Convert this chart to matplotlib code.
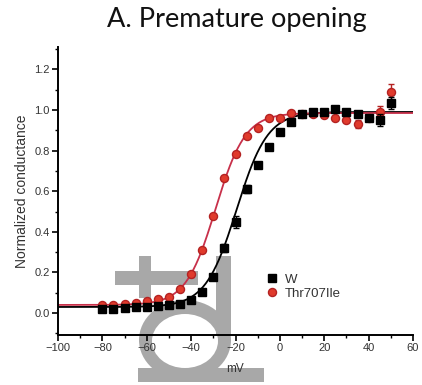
import numpy as np
import matplotlib
matplotlib.use("Agg")
import matplotlib.pyplot as plt
from matplotlib.patches import Rectangle, Ellipse
from matplotlib.lines import Line2D

# voltages (mV)
volts = [-80, -75, -70, -65, -60, -55, -50, -45, -40, -35, -30, -25, -20, -15,
         -10, -5, 0, 5, 10, 15, 20, 25, 30, 35, 40, 45, 50]

# W (black squares)
g_w = [0.02, 0.02, 0.025, 0.03, 0.03, 0.035, 0.04, 0.045, 0.065, 0.105, 0.18, 0.32, 0.45, 0.61,
       0.73, 0.82, 0.89, 0.94, 0.98, 0.99, 0.99, 1.005, 0.99, 0.98, 0.96, 0.95, 1.035]
err_w = [0, 0, 0, 0, 0, 0, 0, 0, 0, 0.01, 0.01, 0.02, 0.03, 0.02,
         0.01, 0.01, 0, 0, 0, 0, 0, 0, 0.01, 0.01, 0.01, 0.03, 0.03]

# Thr707Ile (red circles)
g_mut = [0.04, 0.04, 0.045, 0.05, 0.06, 0.068, 0.078, 0.12, 0.19, 0.31, 0.48, 0.665, 0.785, 0.87,
         0.91, 0.96, 0.96, 0.985, 0.98, 0.98, 0.975, 0.96, 0.95, 0.93, 0.96, 0.99, 1.09]
err_mut = [0, 0, 0, 0, 0, 0, 0, 0.01, 0.01, 0.01, 0.01, 0.01, 0.01, 0.01,
           0.01, 0.01, 0, 0, 0, 0, 0, 0, 0.01, 0.02, 0.01, 0.03, 0.04]

# Boltzmann fit parameters: bottom, top, V1/2, slope
fit_w = (0.03, 0.99, -19.5, 7.0)
fit_mut = (0.04, 0.985, -29.0, 6.7)

labels = ["W", "Thr707Ile"]

RED = "#e03a2c"
RED_EDGE = "#b42222"
GRAY = "#a8a8a8"
FONT = "Liberation Sans"


def boltz(v, p):
    b, t, vh, k = p
    return b + (t - b) / (1 + np.exp((vh - v) / k))


W, H = 422, 385
fig = plt.figure(figsize=(W / 100, H / 100), dpi=100)


def px_rect(x0, y0, x1, y1):
    # pixel box (top-left origin) -> figure fraction rectangle
    return Rectangle((x0 / W, 1 - y1 / H), (x1 - x0) / W, (y1 - y0) / H,
                     transform=fig.transFigure, color=GRAY, zorder=0, lw=0)


# gray watermark glyphs behind the plot
fig.add_artist(px_rect(115, 271, 198, 285))
fig.add_artist(px_rect(139, 256, 151, 298))
fig.add_artist(Ellipse((185 / W, 1 - 340 / H), 92 / W, 80 / H, transform=fig.transFigure,
                       color=GRAY, zorder=0, lw=0))
fig.add_artist(Ellipse((185 / W, 1 - 341 / H), 66 / W, 54 / H, transform=fig.transFigure,
                       color="white", zorder=0, lw=0))
fig.add_artist(px_rect(216, 256, 231, 335))
fig.add_artist(px_rect(138, 368, 264, 382))

ax = fig.add_axes([58 / W, 1 - 335 / H, (413 - 58) / W, (335 - 47) / H])
ax.patch.set_alpha(0)

vv = np.linspace(-100, 60, 400)
ax.plot(vv, boltz(vv, fit_w), color="black", lw=1.3, zorder=2)
ax.plot(vv, boltz(vv, fit_mut), color="#c8304a", lw=1.3, zorder=2)

ax.errorbar(volts, g_mut, yerr=err_mut, fmt="o", ms=5.8, color=RED,
            mec=RED_EDGE, ecolor=RED_EDGE, elinewidth=1, capsize=2, zorder=3)
ax.errorbar(volts, g_w, yerr=err_w, fmt="s", ms=5.5, color="black",
            ecolor="black", elinewidth=1, capsize=2, zorder=4)

ax.set_xlim(-100, 60)
ax.set_ylim(-0.108, 1.31)
ax.set_xticks(np.arange(-100, 61, 20))
ax.set_xticks(np.arange(-100, 61, 10), minor=True)
ax.set_yticks(np.arange(0, 1.21, 0.2))
ax.set_yticks(np.arange(-0.1, 1.31, 0.1), minor=True)
ax.set_yticklabels(["%.1f" % t for t in np.arange(0, 1.21, 0.2)])

for s in ["top", "right"]:
    ax.spines[s].set_visible(False)
for s in ["left", "bottom"]:
    ax.spines[s].set_linewidth(1.4)
ax.tick_params(which="major", direction="out", length=4, width=1.2,
               labelsize=8, labelcolor="#333333", pad=2)
ax.tick_params(which="minor", direction="out", length=2, width=1)
for t in ax.get_xticklabels() + ax.get_yticklabels():
    t.set_family(FONT)

ax.set_xlabel("mV", fontsize=8.5, color="#333333", labelpad=7, family=FONT)
ax.set_ylabel("Normalized conductance", fontsize=10, color="#333333", labelpad=4,
              family=FONT)

handles = [Line2D([], [], ls="none", marker="s", ms=5.5, color="black"),
           Line2D([], [], ls="none", marker="o", ms=5.8, color=RED, mec=RED_EDGE)]
ax.legend(handles, labels, loc="upper left", bbox_to_anchor=(0.55, 0.255), frameon=False,
          handlelength=1, handletextpad=0.5, labelspacing=0.15,
          prop={"family": FONT, "size": 9.5}, labelcolor="#333333")

fig.text(237 / W, 1 - 20 / H, "A. Premature opening", ha="center", va="center",
         fontsize=19.5, family="Lato", color="#111111")

fig.savefig("out.png", dpi=100)
